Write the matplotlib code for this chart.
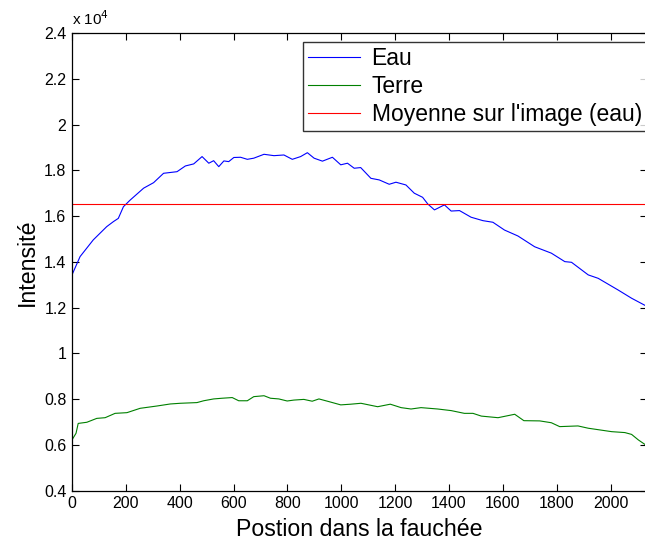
import matplotlib.pyplot as plt
import matplotlib as mpl
from matplotlib.ticker import FuncFormatter

dpi = 100
fig = plt.figure(dpi=dpi, figsize=(645 / dpi, 540 / dpi))
mpl.rcParams.update({'font.family': ['Liberation Sans', 'DejaVu Sans'], 'font.size': 12})

# Eau (blue) - position, intensité (x 10^4)
eau_x = [0, 30, 79, 129, 154, 172, 191, 216, 266, 303, 340, 390, 421, 452, 483, 508, 526, 545,
         564, 582, 601, 626, 651, 675, 713, 750, 787, 818, 849, 874, 899, 930, 967, 998, 1023,
         1048, 1072, 1110, 1141, 1178, 1203, 1240, 1271, 1302, 1321, 1346, 1383, 1408, 1439,
         1482, 1526, 1563, 1606, 1656, 1718, 1780, 1830, 1855, 1917, 1954, 2028, 2078, 2134]
eau_y = [1.343, 1.423, 1.496, 1.554, 1.576, 1.590, 1.641, 1.670, 1.722, 1.746, 1.787, 1.794,
         1.819, 1.828, 1.860, 1.831, 1.842, 1.816, 1.841, 1.838, 1.856, 1.857, 1.848, 1.853,
         1.870, 1.864, 1.867, 1.848, 1.860, 1.877, 1.853, 1.840, 1.857, 1.824, 1.831, 1.809,
         1.812, 1.765, 1.758, 1.739, 1.748, 1.736, 1.700, 1.682, 1.653, 1.627, 1.649, 1.622,
         1.624, 1.595, 1.580, 1.573, 1.539, 1.513, 1.466, 1.438, 1.401, 1.398, 1.343, 1.328,
         1.277, 1.241, 1.206]

# Terre (green)
terre_x = [0, 15, 23, 55, 92, 123, 160, 204, 253, 315, 365, 402, 464, 489, 526, 557, 595, 619,
           651, 675, 713, 737, 768, 799, 824, 861, 892, 917, 955, 998, 1035, 1073, 1135, 1182,
           1222, 1259, 1296, 1358, 1408, 1457, 1489, 1520, 1582, 1644, 1678, 1737, 1780, 1811,
           1879, 1917, 2004, 2053, 2078, 2103, 2134]
terre_y = [0.622, 0.651, 0.694, 0.699, 0.716, 0.719, 0.738, 0.741, 0.760, 0.770, 0.779, 0.782,
           0.785, 0.793, 0.801, 0.804, 0.807, 0.793, 0.793, 0.811, 0.815, 0.804, 0.801, 0.792,
           0.796, 0.799, 0.791, 0.801, 0.789, 0.775, 0.778, 0.782, 0.767, 0.778, 0.763, 0.757,
           0.763, 0.757, 0.750, 0.738, 0.738, 0.726, 0.719, 0.734, 0.706, 0.705, 0.697, 0.680,
           0.683, 0.673, 0.658, 0.654, 0.646, 0.622, 0.597]

moyenne_eau = 1.653

scale = 1e4
eau_y = [v * scale for v in eau_y]
terre_y = [v * scale for v in terre_y]
moyenne_eau = moyenne_eau * scale

ax = fig.add_axes([72 / 645, 49.3 / 540, 1.003 - 72 / 645, 457.7 / 540])

ax.plot(eau_x, eau_y, color=(0, 0, 1), linewidth=0.8, label='Eau')
ax.plot(terre_x, terre_y, color=(0, 0.5, 0), linewidth=0.8, label='Terre')
ax.axhline(moyenne_eau, color=(1, 0, 0), linewidth=0.8, label="Moyenne sur l'image (eau)")

ax.set_xlim(0, 2135)
ax.set_ylim(0.4e4, 2.4e4)
ax.set_xticks(range(0, 2001, 200))
ax.set_yticks([v * 2000 for v in range(2, 13)])
ax.yaxis.set_major_formatter(FuncFormatter(lambda v, p: '%g' % round(v / scale, 1)))
ax.tick_params(direction='in', top=True, right=True, length=5, width=0.8, labelsize=11.5, pad=4)
for s in ax.spines.values():
    s.set_linewidth(0.9)

ax.text(0, 1.012, r'x 10$^{4}$', transform=ax.transAxes, fontsize=11, ha='left', va='bottom')

ax.set_xlabel('Postion dans la fauchée', fontsize=16.7, labelpad=4.5)
ax.set_ylabel('Intensité', fontsize=16.7, labelpad=4)

leg = ax.legend(loc='upper left', bbox_to_anchor=(303 / 645, 1 - 42 / 540),
                bbox_transform=fig.transFigure, fontsize=16.5, frameon=True, fancybox=False,
                borderaxespad=0, handlelength=2.27, handletextpad=0.5, labelspacing=0.22,
                borderpad=0.22)
leg.get_frame().set_edgecolor('black')
leg.get_frame().set_linewidth(1.0)

fig.savefig('out.png', dpi=dpi)
